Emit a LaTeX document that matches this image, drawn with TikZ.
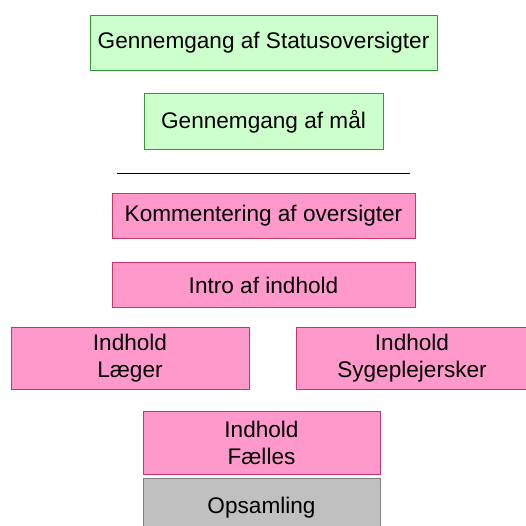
\documentclass[tikz,border=0pt]{standalone}
\usepackage{fontspec}
\setmainfont{Liberation Sans}
\usepackage{xcolor}
\definecolor{GreenFill}{HTML}{CCFFCC}
\definecolor{GreenLine}{HTML}{339933}
\definecolor{PinkFill}{HTML}{FF99CC}
\definecolor{PinkLine}{HTML}{CC3366}
\definecolor{GreyFill}{HTML}{C0C0C0}
\definecolor{GreyLine}{HTML}{808080}

\begin{document}
\begin{tikzpicture}[x=1pt,y=-1pt,
  every node/.style={font=\fontsize{22.6}{27}\selectfont,align=center,inner sep=0pt,line width=1pt},
  goalbox/.style={rectangle,draw=GreenLine,fill=GreenFill},
  partbox/.style={rectangle,draw=PinkLine,fill=PinkFill},
  endbox/.style={rectangle,draw=GreyLine,fill=GreyFill}]
  \useasboundingbox (0,0) rectangle (526,525);
  \node[goalbox,minimum width=347pt,minimum height=55pt] (stat) at (263.5,43) {Gennemgang af Statusoversigter};
  \node[goalbox,minimum width=239pt,minimum height=56pt] (maal) at (263.5,121.5) {Gennemgang af mål};
  % skillelinje
  \coordinate (sepL) at (117,173);
  \coordinate (sepR) at (410,173);
  \draw[line width=1pt] (sepL) -- (sepR);
  \node[partbox,minimum width=303pt,minimum height=45pt] (komm) at (263.5,216) {Kommentering af oversigter};
  \node[partbox,minimum width=303pt,minimum height=45pt] (intro) at (263.5,285) {Intro af indhold};
  \node[partbox,minimum width=238pt,minimum height=62pt] (laeger) at (130,358.5) {Indhold\\Læger};
  \node[partbox,minimum width=232pt,minimum height=62pt] (syge) at (412,358.5) {Indhold\\Sygeplejersker};
  \node[partbox,minimum width=237pt,minimum height=63pt] (faelles) at (261.5,443) {Indhold\\Fælles};
  \node[endbox,minimum width=237pt,minimum height=60pt] (opsam) at (261.5,508) {Opsamling};
\end{tikzpicture}
\end{document}
